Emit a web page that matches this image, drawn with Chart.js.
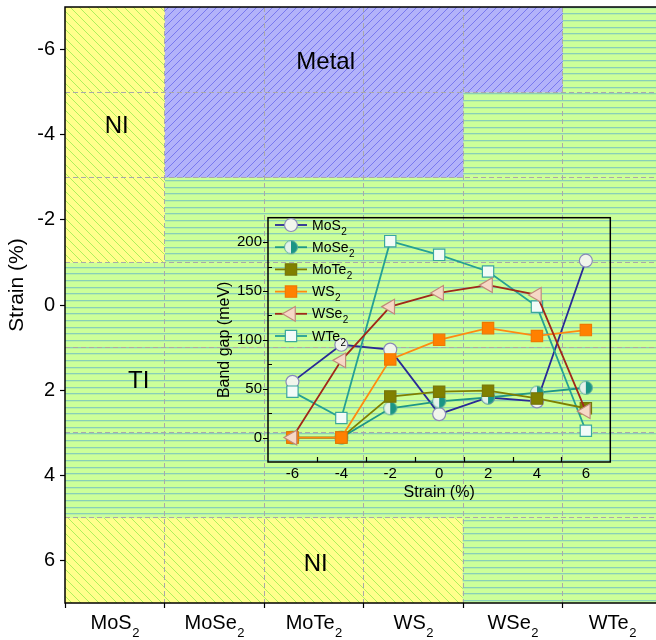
<!DOCTYPE html>
<html><head><meta charset="utf-8">
<script src="https://cdn.jsdelivr.net/npm/chart.js@4.4.1/dist/chart.umd.min.js"></script>
<style>
html,body{margin:0;padding:0;overflow:hidden;background:#fff;width:656px;height:640px;}
#main{position:absolute;left:0;top:0;}
#inset{position:absolute;left:205px;top:208px;}
</style></head><body>
<canvas id="main" width="662" height="640"></canvas>
<canvas id="inset" width="415" height="300"></canvas>
<script>
// ---------- data ----------
const materials = ['MoS2','MoSe2','MoTe2','WS2','WSe2','WTe2'];
const strainTicks = [-6,-5,-4,-3,-2,-1,0,1,2,3,4,5,6];
const niTop    = [[-7,-1], null, null, null, null, null];
const metal    = [null, [-7,-3], [-7,-3], [-7,-3], [-7,-5], null];
const ti       = [[-1,5], [-3,5], [-3,5], [-3,5], [-5,7], [-7,7]];
const niBottom = [[5,7], [5,7], [5,7], [5,7], null, null];

const strain   = [-6,-4,-2,0,2,4,6];
const gapMoS2  = [57,95,90,24,41,37,181];
const gapMoSe2 = [0,0,30,37,41,46,51];
const gapMoTe2 = [0,0,42,47,48,40,30];
const gapWS2   = [0,0,80,100,112,104,110];
const gapWSe2  = [0,79,134,148,156,146,27];
const gapWTe2  = [47,20,201,187,170,134,7];
const insetXTicks = [-6,-4,-2,0,2,4,6];
const insetYTicks = [0,50,100,150,200];

const FONT = "'Liberation Sans', Arial, sans-serif";
Chart.defaults.font.family = FONT;
Chart.defaults.color = '#000';

// ---------- patterns ----------
function tile(w,h,bg,draw){
  const c=document.createElement('canvas');c.width=w;c.height=h;
  const g=c.getContext('2d');g.fillStyle=bg;g.fillRect(0,0,w,h);draw(g,w,h);
  return document.getElementById('main').getContext('2d').createPattern(c,'repeat');
}
const yellowPat = tile(9,9,'#ffff8c',(g,s)=>{
  g.strokeStyle='rgba(120,230,60,0.6)';g.lineWidth=1;
  g.beginPath();g.moveTo(-1,-1);g.lineTo(s+1,s+1);
  g.moveTo(s-1,-1);g.lineTo(s+1,1);g.moveTo(-1,s-1);g.lineTo(1,s+1);g.stroke();
});
const bluePat = tile(8,8,'#b2b2fa',(g,s)=>{
  g.strokeStyle='rgba(100,100,235,0.75)';g.lineWidth=1;
  g.beginPath();g.moveTo(-1,s+1);g.lineTo(s+1,-1);
  g.moveTo(-1,1);g.lineTo(1,-1);g.moveTo(s-1,s+1);g.lineTo(s+1,s-1);g.stroke();
});
const greenPat = tile(4,20,'#ccff99',(g,w)=>{
  g.fillStyle='#88cfb8';
  g.fillRect(0,0,w,1.3);g.fillRect(0,7,w,1.3);g.fillRect(0,13,w,1.3);
});

// ---------- helpers ----------
function drawSubText(ctx, text, x, y, size, subSize, subDrop, align){
  const m = text.match(/^(.*?)(\d*)$/);
  const main = m[1], sub = m[2];
  ctx.font = size+'px '+FONT;
  const w1 = ctx.measureText(main).width;
  ctx.font = subSize+'px '+FONT;
  const w2 = sub ? ctx.measureText(sub).width : 0;
  let x0 = align==='center' ? x-(w1+w2)/2 : x;
  ctx.textAlign='left';ctx.textBaseline='alphabetic';
  ctx.font = size+'px '+FONT; ctx.fillText(main,x0,y);
  if(sub){ctx.font = subSize+'px '+FONT; ctx.fillText(sub,x0+w1+0.5,y+subDrop);}
}

// ---------- main chart ----------
const mainPlugin = {
  id:'mainDeco',
  afterDraw(chart){
    const {ctx, chartArea:a, scales:{x,y}} = chart;
    ctx.save();
    ctx.strokeStyle='#000';ctx.lineWidth=1.5;
    ctx.strokeRect(a.left,a.top,a.right-a.left,a.bottom-a.top);
    ctx.fillStyle='#000';ctx.textAlign='center';ctx.textBaseline='middle';
    ctx.font='24px '+FONT;
    ctx.fillText('NI', x.getPixelForValue(0.02), y.getPixelForValue(-4.2));
    ctx.fillText('Metal', x.getPixelForValue(2.12), y.getPixelForValue(-5.7));
    ctx.fillText('TI', x.getPixelForValue(0.24), y.getPixelForValue(1.8));
    ctx.fillText('NI', x.getPixelForValue(2.02), y.getPixelForValue(6.1));
    materials.forEach((m,i)=>{
      drawSubText(ctx, m, x.getPixelForValue(i), a.bottom+26, 20, 13, 8, 'center');
    });
    ctx.save();ctx.translate(17,285);ctx.rotate(-Math.PI/2);
    ctx.font='21px '+FONT;ctx.textAlign='center';ctx.textBaseline='middle';
    ctx.fillText('Strain (%)',0,0);ctx.restore();
    ctx.restore();
  }
};

new Chart(document.getElementById('main'), {
  type:'bar',
  data:{labels:materials, datasets:[
    {data:niTop, backgroundColor:yellowPat},
    {data:metal, backgroundColor:bluePat},
    {data:ti, backgroundColor:greenPat},
    {data:niBottom, backgroundColor:yellowPat}
  ]},
  options:{
    responsive:false, animation:false, devicePixelRatio:1,
    layout:{padding:{top:7,right:0,left:0,bottom:0}},
    datasets:{bar:{barPercentage:1,categoryPercentage:1,grouped:false,borderWidth:0}},
    plugins:{legend:{display:false},tooltip:{enabled:false}},
    scales:{
      x:{type:'category', offset:true,
        grid:{offset:true, z:1, lineWidth:1, tickLength:5, tickWidth:1.2, tickColor:'#000',
          color:c=>(c.index>0&&c.index<6)?'#a9a9a9':'rgba(0,0,0,0)'},
        border:{display:false, dash:[5,3]},
        ticks:{display:false},
        afterFit:s=>{s.height=37;s.paddingLeft=0;s.paddingRight=0;}},
      y:{type:'linear', reverse:true, min:-7, max:7,
        afterBuildTicks:s=>{s.ticks=strainTicks.map(v=>({value:v}));},
        ticks:{callback:v=>v%2===0?String(v):'', font:{size:20}, color:'#000', padding:5},
        grid:{z:1, lineWidth:1, tickLength:5, tickWidth:1.2,
          color:c=>Math.abs(c.tick.value)%2===1?'#a9a9a9':'rgba(0,0,0,0)',
          tickColor:c=>Math.abs(c.tick.value)%2===0?'#000':'rgba(0,0,0,0)'},
        border:{display:false, dash:[5,3]},
        afterFit:s=>{s.width=65;s.paddingTop=0;s.paddingBottom=0;}}
    }
  },
  plugins:[mainPlugin]
});

// ---------- inset chart ----------
function halfCircle(r, light, dark, border){
  const s=Math.ceil(2*r+3), c=document.createElement('canvas');c.width=c.height=s;
  const g=c.getContext('2d'), cx=s/2, cy=s/2;
  g.beginPath();g.arc(cx,cy,r,Math.PI/2,3*Math.PI/2);g.closePath();g.fillStyle=light;g.fill();
  g.beginPath();g.arc(cx,cy,r,-Math.PI/2,Math.PI/2);g.closePath();g.fillStyle=dark;g.fill();
  g.beginPath();g.arc(cx,cy,r,0,2*Math.PI);g.strokeStyle=border;g.lineWidth=1;g.stroke();
  return c;
}
const halfImg = halfCircle(6.5,'#e4f2ea','#1b9585','#5aa89c');
const pts = arr => strain.map((s,i)=>({x:s,y:arr[i]}));
const series = [
  {label:'MoS2', data:pts(gapMoS2), borderColor:'#2a2a96', pointBackgroundColor:'#f1f5ec', pointBorderColor:'#8a8ab8', pointStyle:'circle', pointRadius:6.5, order:5},
  {label:'MoSe2', data:pts(gapMoSe2), borderColor:'#1e9688', pointStyle:halfImg, pointRadius:6.5, order:4},
  {label:'MoTe2', data:pts(gapMoTe2), borderColor:'#7f7f00', pointBackgroundColor:'#808000', pointBorderColor:'#76760a', pointStyle:'rect', pointRadius:8, order:2},
  {label:'WS2', data:pts(gapWS2), borderColor:'#ff8a10', pointBackgroundColor:'#ff8000', pointBorderColor:'#f07800', pointStyle:'rect', pointRadius:8, order:1},
  {label:'WSe2', data:pts(gapWSe2), borderColor:'#a0281a', pointBackgroundColor:'#f6d8c6', pointBorderColor:'#c08a7a', pointStyle:'triangle', pointRotation:-90, pointRadius:8.5, order:0},
  {label:'WTe2', data:pts(gapWTe2), borderColor:'#25a094', pointBackgroundColor:'#f2fbf8', pointBorderColor:'#3aa89c', pointStyle:'rect', pointRadius:8, order:3}
];
series.forEach(d=>{d.borderWidth=1.8;d.tension=0;d.pointBorderWidth=1.2;d.fill=false;});

function drawMarker(ctx, ds, x, y){
  const r = ds.pointRadius, st = ds.pointStyle;
  ctx.save();
  if(typeof st!=='string'){ctx.drawImage(st,x-st.width/2,y-st.height/2);ctx.restore();return;}
  ctx.fillStyle=ds.pointBackgroundColor;ctx.strokeStyle=ds.pointBorderColor;ctx.lineWidth=ds.pointBorderWidth;
  ctx.beginPath();
  if(st==='circle'){ctx.arc(x,y,r,0,2*Math.PI);}
  else if(st==='rect'){const h=r*Math.SQRT1_2;ctx.rect(x-h,y-h,2*h,2*h);}
  else if(st==='triangle'){
    let rad=(ds.pointRotation||0)*Math.PI/180;
    ctx.moveTo(x+Math.sin(rad)*r,y-Math.cos(rad)*r);
    for(let k=0;k<2;k++){rad+=2*Math.PI/3;ctx.lineTo(x+Math.sin(rad)*r,y-Math.cos(rad)*r);}
    ctx.closePath();
  }
  ctx.fill();ctx.stroke();ctx.restore();
}

const insetPlugin = {
  id:'insetDeco',
  afterDraw(chart){
    const {ctx, chartArea:a, scales:{x,y}} = chart;
    ctx.save();
    ctx.strokeStyle='#000';ctx.lineWidth=1.5;
    ctx.strokeRect(a.left,a.top,a.right-a.left,a.bottom-a.top);
    ctx.lineWidth=1.2;ctx.beginPath();
    [-5,-3,-1,1,3,5].forEach(v=>{const px=Math.round(x.getPixelForValue(v))+0.5;ctx.moveTo(px,a.bottom);ctx.lineTo(px,a.bottom-5);});
    insetYTicks.forEach(v=>{const py=Math.round(y.getPixelForValue(v))+0.5;ctx.moveTo(a.left,py);ctx.lineTo(a.left-5,py);});
    [25,75,125,175].forEach(v=>{const py=Math.round(y.getPixelForValue(v))+0.5;ctx.moveTo(a.left,py);ctx.lineTo(a.left+4,py);});
    ctx.stroke();
    // legend
    chart.data.datasets.forEach((ds,i)=>{
      const ly = 17 + i*22.2;
      ctx.strokeStyle=ds.borderColor;ctx.lineWidth=1.8;
      ctx.beginPath();ctx.moveTo(70,ly);ctx.lineTo(102,ly);ctx.stroke();
      drawMarker(ctx, ds, 86, ly);
      ctx.fillStyle='#000';
      drawSubText(ctx, ds.label, 107, ly+4.5, 14, 10, 5, 'left');
    });
    ctx.restore();
  }
};

new Chart(document.getElementById('inset'), {
  type:'line',
  data:{datasets:series},
  options:{
    responsive:false, animation:false, devicePixelRatio:1,
    layout:{padding:{top:7,right:7,left:0,bottom:0}},
    plugins:{legend:{display:false},tooltip:{enabled:false}},
    scales:{
      x:{type:'linear', min:-7, max:7,
        afterBuildTicks:s=>{s.ticks=insetXTicks.map(v=>({value:v}));},
        grid:{display:false, drawTicks:false}, border:{display:false},
        ticks:{font:{size:15}, color:'#000', padding:3, maxRotation:0, autoSkip:false},
        title:{display:true, text:'Strain (%)', font:{size:16}, color:'#000', padding:{top:0,bottom:6}},
        afterFit:s=>{s.height=46;s.paddingLeft=0;s.paddingRight=0;}},
      y:{type:'linear', min:-25, max:225,
        afterBuildTicks:s=>{s.ticks=insetYTicks.map(v=>({value:v}));},
        grid:{display:false, drawTicks:false}, border:{display:false},
        ticks:{font:{size:15}, color:'#000', padding:6},
        title:{display:true, text:'Band gap (meV)', font:{size:16}, color:'#000', padding:{top:10,bottom:0}},
        afterFit:s=>{s.width=63;s.paddingTop=0;s.paddingBottom=0;}}
    }
  },
  plugins:[insetPlugin]
});
</script>
</body></html>
